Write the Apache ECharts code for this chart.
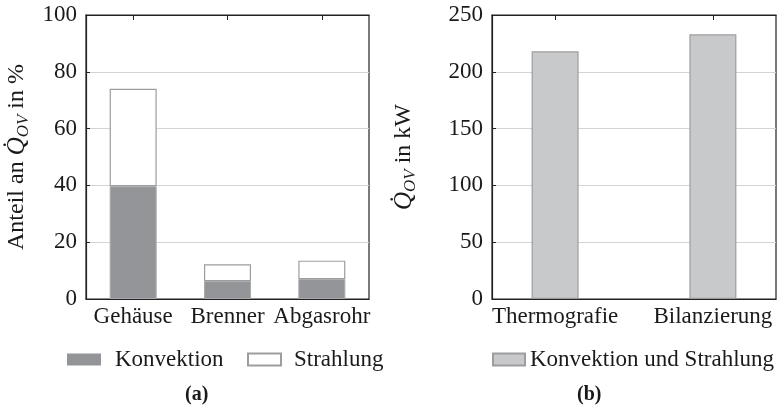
<!DOCTYPE html>
<html><head><meta charset="utf-8">
<script src="https://cdn.jsdelivr.net/npm/echarts@6/dist/echarts.min.js"></script>
<style>html,body{margin:0;padding:0;background:#fff}#c{width:780px;height:408px}</style>
</head><body><div id="c"></div>
<script>
const categoriesA = ['Gehäuse', 'Brenner', 'Abgasrohr'];
const konvektion = [39.7, 6.3, 7.0];
const strahlung = [34.3, 5.9, 6.5];
const categoriesB = ['Thermografie', 'Bilanzierung'];
const gesamt = [218, 233];
const yTicksA = [0, 20, 40, 60, 80, 100];
const yTicksB = [0, 50, 100, 150, 200, 250];

const FONT = '"Liberation Serif", "DejaVu Serif", serif';
const FS = 23;
const TXT = '#1a1a1a';
const AXC = '#222';
const GRIDC = '#d4d4d4';

const chart = echarts.init(document.getElementById('c'), null, {renderer: 'canvas'});

function yAxisCommon(gridIndex, ticks, nameRich, nameGap) {
  return {
    type: 'value', gridIndex, min: ticks[0], max: ticks[ticks.length - 1],
    interval: ticks[1] - ticks[0],
    axisLine: {show: true, onZero: false, lineStyle: {color: AXC, width: 1.2}},
    axisTick: {show: true, inside: true, length: 4, lineStyle: {color: AXC}},
    axisLabel: {fontFamily: FONT, fontSize: FS, color: TXT, margin: 9},
    splitLine: {show: true, lineStyle: {color: GRIDC, width: 1}},
    name: nameRich, nameLocation: 'middle', nameRotate: 90, nameGap,
    nameTextStyle: {
      fontFamily: FONT, fontSize: 24, color: TXT,
      rich: {
        q: {fontFamily: FONT, fontSize: 25, fontStyle: 'italic', color: TXT, lineHeight: 30},
        s: {fontFamily: FONT, fontSize: 17, fontStyle: 'italic', color: TXT, verticalAlign: 'bottom', lineHeight: 17}
      }
    }
  };
}

const option = {
  animation: false,
  backgroundColor: '#fff',
  textStyle: {fontFamily: FONT},
  grid: [
    {left: 86, top: 15, width: 283, height: 284, show: true, borderColor: AXC, borderWidth: 1.2, backgroundColor: 'transparent'},
    {left: 492, top: 15, width: 284, height: 284, show: true, borderColor: AXC, borderWidth: 1.2, backgroundColor: 'transparent'}
  ],
  xAxis: [
    {type: 'category', gridIndex: 0, data: categoriesA, boundaryGap: true,
     axisLine: {show: true, onZero: false, lineStyle: {color: AXC, width: 1.2}},
     axisTick: {show: false},
     axisLabel: {fontFamily: FONT, fontSize: FS, color: TXT, margin: 6, interval: 0}},
    {type: 'category', gridIndex: 0, position: 'top', data: categoriesA, boundaryGap: true,
     axisLine: {show: true, onZero: false, lineStyle: {color: AXC, width: 1.2}},
     axisTick: {show: true, inside: true, alignWithLabel: true, interval: 0, length: 5, lineStyle: {color: AXC, width: 1}},
     axisLabel: {show: true, interval: 0, color: 'rgba(0,0,0,0)', fontSize: 1}},
    {type: 'value', gridIndex: 1, min: -0.4, max: 1.4,
     axisLine: {show: true, onZero: false, lineStyle: {color: AXC, width: 1.2}},
     axisTick: {show: false},
     splitLine: {show: false},
     axisLabel: {customValues: [0, 1], fontFamily: FONT, fontSize: FS, color: TXT, margin: 6,
                 formatter: v => categoriesB[Math.round(v)]}},
    {type: 'value', gridIndex: 1, position: 'top', min: -0.4, max: 1.4,
     axisLine: {show: true, onZero: false, lineStyle: {color: AXC, width: 1.2}},
     axisTick: {show: true, inside: true, length: 5, customValues: [0, 1], lineStyle: {color: AXC, width: 1}},
     splitLine: {show: false},
     axisLabel: {show: true, customValues: [0, 1], color: 'rgba(0,0,0,0)', fontSize: 1}}
  ],
  yAxis: [
    yAxisCommon(0, yTicksA, 'Anteil an {q|Q̇}{s|OV} in %', 54),
    yAxisCommon(1, yTicksB, '{q|Q̇}{s|OV} in kW', 73)
  ],
  legend: [
    {data: [{name: 'Konvektion', itemStyle: {borderWidth: 0}}], left: 62, top: 343, icon: 'rect',
     itemWidth: 34, itemHeight: 12,
     textStyle: {fontFamily: FONT, fontSize: FS, color: TXT, padding: [0, 0, 0, 9]}},
    {data: ['Strahlung'], left: 242, top: 343, icon: 'rect', itemWidth: 33, itemHeight: 12,
     textStyle: {fontFamily: FONT, fontSize: FS, color: TXT, padding: [0, 0, 0, 8]}},
    {data: ['Konvektion und Strahlung'], left: 487, top: 343, icon: 'rect', itemWidth: 32, itemHeight: 12,
     textStyle: {fontFamily: FONT, fontSize: FS, color: TXT, padding: [0, 0, 0, 0]}}
  ],
  graphic: [
    {type: 'text', left: 185, top: 385, style: {text: '(a)', fontFamily: FONT, fontSize: 20, fontWeight: 'bold', fill: TXT}},
    {type: 'text', left: 577, top: 385, style: {text: '(b)', fontFamily: FONT, fontSize: 20, fontWeight: 'bold', fill: TXT}}
  ],
  series: [
    {name: 'Konvektion', type: 'bar', xAxisIndex: 0, yAxisIndex: 0, stack: 'a', barWidth: 47,
     data: konvektion,
     itemStyle: {color: '#939598', borderColor: '#a9aaac', borderWidth: 1}},
    {name: 'Strahlung', type: 'bar', xAxisIndex: 0, yAxisIndex: 0, stack: 'a', barWidth: 47,
     data: strahlung,
     itemStyle: {color: '#ffffff', borderColor: '#9d9d9f', borderWidth: 1.2}},
    {name: 'Konvektion und Strahlung', type: 'bar', xAxisIndex: 2, yAxisIndex: 1, barWidth: 47,
     data: categoriesB.map((c, i) => [i, gesamt[i]]),
     itemStyle: {color: '#c8c9cb', borderColor: '#9d9d9f', borderWidth: 1.2}}
  ]
};
chart.setOption(option);
</script></body></html>
